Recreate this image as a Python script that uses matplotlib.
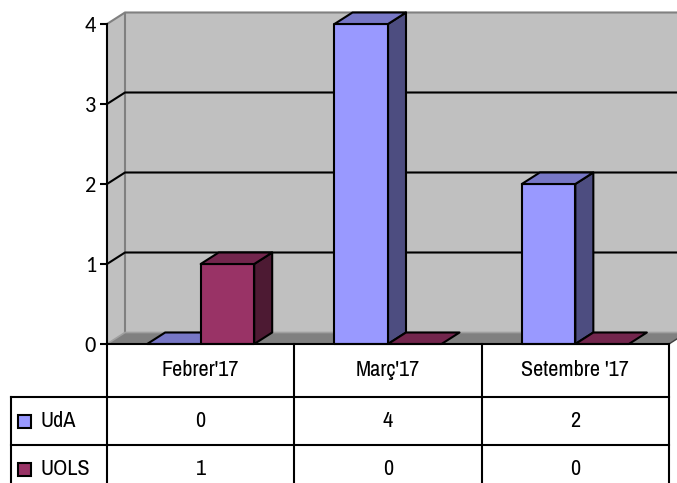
import matplotlib
matplotlib.use("Agg")
import matplotlib.pyplot as plt
from matplotlib.patches import Polygon, Rectangle
from matplotlib import font_manager

categories = ["Febrer'17", "Març'17", "Setembre '17"]
series_names = ["UdA", "UOLS"]
uda = [0, 4, 2]
uols = [1, 0, 0]

# colores: frontal, superior, lateral
colores = {
    "UdA": ("#9999FF", "#7777C6", "#4D4D80"),
    "UOLS": ("#993366", "#73264D", "#4D1A33"),
}

nombres = {f.name for f in font_manager.fontManager.ttflist}
fuente_tabla, tam_tabla = "Liberation Sans", 13
for nom, tam in [("Liberation Sans Narrow", 16), ("Arimo Narrow", 16), ("Archivo Narrow", 16)]:
    if nom in nombres:
        fuente_tabla, tam_tabla = nom, tam
        break
fuente_ejes = "Carlito" if "Carlito" in nombres else "Open Sans"

fig = plt.figure(figsize=(6.77, 4.83), dpi=100)
ax = fig.add_axes([107 / 677, 139 / 483, 562 / 677, 320 / 483])
ax.set_xlim(0, 3)
ax.set_ylim(0, 4)
ax.patch.set_visible(False)

# profundidad 3D en unidades de datos
DX = 18 / (562 / 3)
DY = 11.5 / 80
W = 1 / 3.5
ymax = 4
n = len(categories)

# paredes y suelo
ax.add_patch(Polygon([(DX, DY), (n + DX, DY), (n + DX, ymax + DY), (DX, ymax + DY)],
                     fc="#C0C0C0", ec="none", zorder=0, clip_on=False))
ax.add_patch(Polygon([(0, 0), (DX, DY), (DX, ymax + DY), (0, ymax)],
                     fc="#C0C0C0", ec="none", zorder=0, clip_on=False))
ax.add_patch(Polygon([(0, 0), (n, 0), (n + DX, DY), (DX, DY)],
                     fc="#808080", ec="none", zorder=1, clip_on=False))
ax.plot([0, DX, n + DX], [ymax, ymax + DY, ymax + DY], color="#808080", lw=1.5, zorder=1, clip_on=False)
ax.plot([DX, DX], [DY, ymax + DY], color="#808080", lw=1.5, zorder=1, clip_on=False)
ax.plot([0, DX, n + DX], [0, DY, DY], color="#A0A0A0", lw=1.2, zorder=1, clip_on=False)
ax.plot([n, n + DX], [0, DY], color="#404040", lw=1, zorder=1, clip_on=False)

for v in range(1, ymax):
    ax.plot([0, DX, n + DX], [v, v + DY, v + DY], color="black", lw=1.5, zorder=2, clip_on=False)


def barra(x0, h, caras):
    frente, arriba, lado = caras
    x1 = x0 + W
    kw = dict(ec="black", lw=1.5, zorder=3, clip_on=False, joinstyle="round")
    if h > 0:
        ax.add_patch(Polygon([(x1, 0), (x1 + DX, DY), (x1 + DX, h + DY), (x1, h)], fc=lado, **kw))
        ax.add_patch(Rectangle((x0, 0), W, h, fc=frente, **kw))
    ax.add_patch(Polygon([(x0, h), (x1, h), (x1 + DX, h + DY), (x0 + DX, h + DY)], fc=arriba, **kw))


for i in range(n):
    c = i + 0.5
    barra(c - W, uda[i], colores["UdA"])
    barra(c, uols[i], colores["UOLS"])

# ejes
for lado in ["top", "right"]:
    ax.spines[lado].set_visible(False)
ax.spines["left"].set_linewidth(1.5)
ax.spines["bottom"].set_linewidth(1.5)
ax.spines["left"].set_zorder(5)
ax.spines["bottom"].set_zorder(5)
ax.set_xticks([])
ax.set_yticks(range(0, ymax + 1))
ax.set_yticklabels([str(v) for v in range(0, ymax + 1)], family=fuente_ejes, fontsize=16)
ax.tick_params(axis="y", length=5, width=1.5, pad=3)

# tabla de datos
h_cab = 53 / 80
h_fila = 48 / 80
L = -96 / (562 / 3)
y1 = -h_cab
y2 = -h_cab - h_fila
fondo = -2.5
lin = dict(color="black", lw=1.5, clip_on=False, zorder=5)
ax.plot([L, n], [y1, y1], **lin)
ax.plot([L, n], [y2, y2], **lin)
for xv in range(n + 1):
    ax.plot([xv, xv], [0, fondo], **lin)
ax.plot([L, L], [y1, fondo], **lin)

for i, cat in enumerate(categories):
    ax.text(i + 0.5, -h_cab / 2, cat, ha="center", va="center",
            fontsize=tam_tabla, family=fuente_tabla)

filas = [uda, uols]
for j, nombre in enumerate(series_names):
    yc = -h_cab - h_fila * j - 0.3
    sq_w = 13 / (562 / 3)
    sq_h = 13 / 80
    ax.add_patch(Rectangle((L + 7 / (562 / 3), yc - sq_h / 2), sq_w, sq_h,
                           fc=colores[nombre][0], ec="black", lw=1.5, clip_on=False, zorder=5))
    ax.text(L + 29 / (562 / 3), yc, nombre, ha="left", va="center",
            fontsize=tam_tabla, family=fuente_tabla)
    for i in range(n):
        ax.text(i + 0.5, yc, str(filas[j][i]), ha="center", va="center",
                fontsize=tam_tabla, family=fuente_tabla)

fig.savefig("out.png", dpi=100)
